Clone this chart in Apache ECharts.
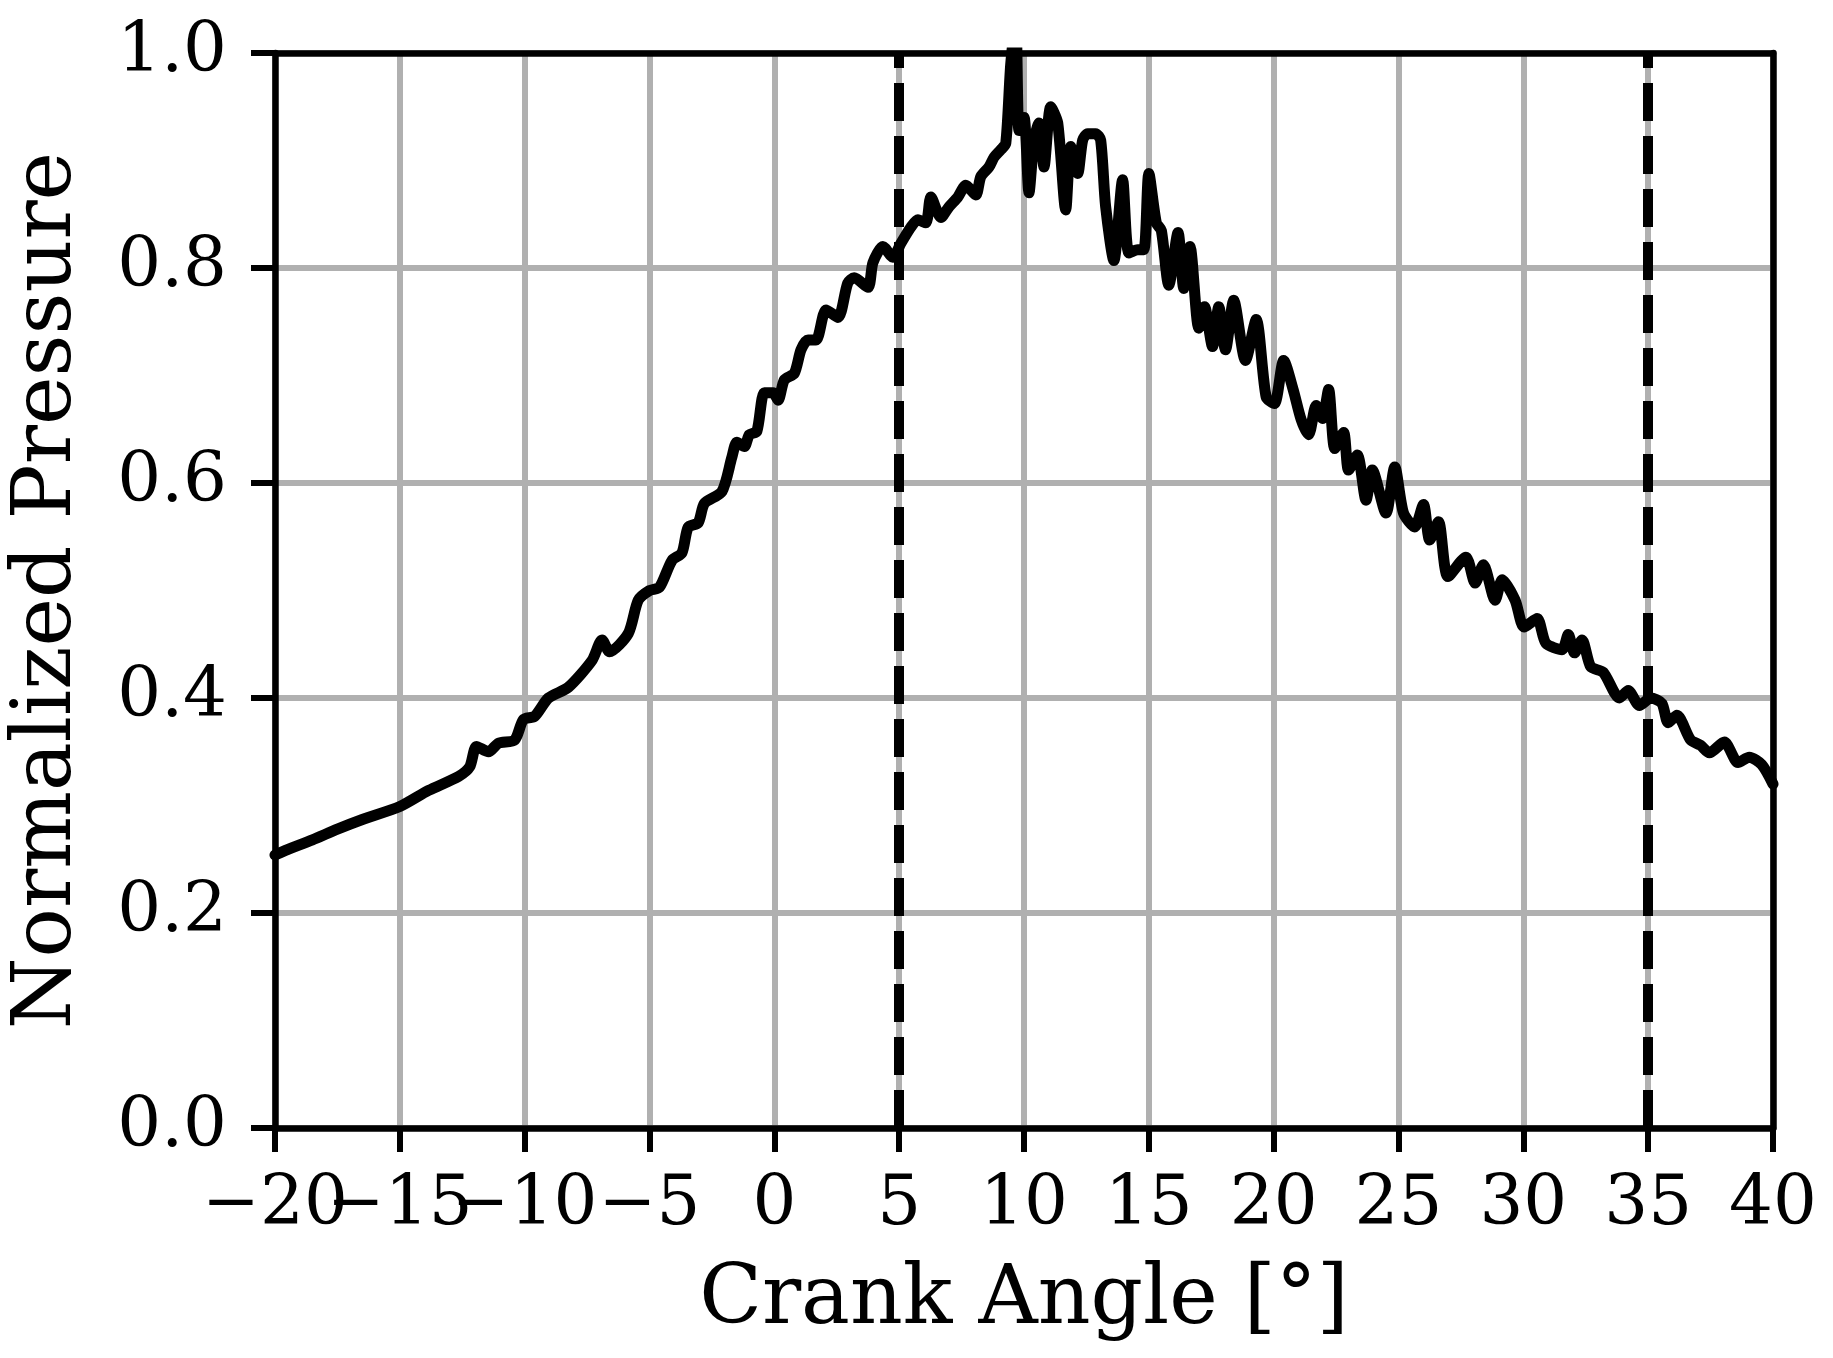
<!DOCTYPE html>
<html>
<head>
<meta charset="utf-8">
<title>Normalized Pressure</title>
<script src="https://cdn.jsdelivr.net/npm/echarts@6.0.0/dist/echarts.min.js"></script>
<style>
    html, body { margin: 0; padding: 0; background: #ffffff; }
    #charts { width: 1833px; height: 1358px; }
</style>
</head>
<body>
<div id="charts"></div>
<script>
// crank angle [deg] and pressure
var angle = [
    -20, -19.5, -18.5, -17.5, -16.5, -15, -13.85, -12.65, -12.2, -11.93,
    -11.45, -11.05, -10.4, -10.05, -9.6, -9.05, -8.25, -7.3, -6.9, -6.6,
    -5.85, -5.45, -5.0, -4.6, -4.1, -3.7, -3.45, -3.05, -2.8, -2.1,
    -1.7, -1.5, -1.2, -1.0, -0.7, -0.4, -0.05, 0.15, 0.4, 0.8,
    1.07, 1.35, 1.67, 2.07, 2.55, 2.94, 3.2, 3.75, 3.95, 4.35,
    4.75, 5.07, 5.47, 5.75, 6.07, 6.27, 6.67, 7.0, 7.35, 7.67,
    8.07, 8.27, 8.6, 8.8, 9.07, 9.27, 9.47, 9.67, 9.8, 10.0,
    10.2, 10.4, 10.6, 10.8, 11.07, 11.35, 11.67, 11.87, 12.15, 12.35,
    12.55, 12.87, 13.07, 13.27, 13.6, 13.95, 14.2, 14.55, 14.8, 15.0,
    15.3, 15.5, 15.8, 16.17, 16.4, 16.65, 17.0, 17.23, 17.55, 17.8,
    18.07, 18.4, 18.87, 19.3, 19.7, 20.03, 20.4, 20.78, 21.1, 21.4,
    21.7, 21.95, 22.2, 22.45, 22.8, 23.0, 23.35, 23.7, 23.95, 24.5,
    24.85, 25.2, 25.65, 26.0, 26.25, 26.6, 26.98, 27.7, 28.07, 28.4,
    28.87, 29.15, 29.67, 30.03, 30.55, 30.9, 31.55, 31.8, 32.05, 32.35,
    32.7, 33.2, 33.85, 34.2, 34.65, 35.1, 35.55, 35.8, 36.15, 36.7,
    37.1, 37.45, 38.05, 38.6, 39.05, 39.55, 40
];
var pressure = [
    0.254, 0.259, 0.268, 0.278, 0.287, 0.299, 0.314, 0.327, 0.336, 0.355,
    0.350, 0.358, 0.361, 0.380, 0.383, 0.400, 0.410, 0.435, 0.454, 0.443,
    0.460, 0.491, 0.500, 0.503, 0.528, 0.535, 0.559, 0.563, 0.581, 0.592,
    0.624, 0.638, 0.634, 0.645, 0.648, 0.684, 0.684, 0.677, 0.696, 0.702,
    0.724, 0.733, 0.733, 0.761, 0.754, 0.786, 0.791, 0.782, 0.805, 0.820,
    0.810, 0.823, 0.838, 0.845, 0.842, 0.866, 0.847, 0.857, 0.866, 0.877,
    0.868, 0.885, 0.894, 0.903, 0.910, 0.916, 0.990, 1.030, 0.928, 0.940,
    0.870, 0.919, 0.935, 0.894, 0.950, 0.935, 0.854, 0.913, 0.888, 0.919,
    0.925, 0.925, 0.919, 0.857, 0.807, 0.882, 0.814, 0.817, 0.817, 0.888,
    0.842, 0.835, 0.784, 0.833, 0.781, 0.820, 0.744, 0.764, 0.727, 0.764,
    0.724, 0.770, 0.714, 0.752, 0.680, 0.674, 0.714, 0.687, 0.659, 0.645,
    0.672, 0.660, 0.687, 0.632, 0.647, 0.612, 0.626, 0.584, 0.612, 0.572,
    0.615, 0.572, 0.559, 0.580, 0.547, 0.564, 0.513, 0.531, 0.507, 0.524,
    0.491, 0.510, 0.491, 0.466, 0.474, 0.451, 0.445, 0.459, 0.442, 0.454,
    0.429, 0.424, 0.400, 0.407, 0.393, 0.400, 0.395, 0.377, 0.384, 0.361,
    0.356, 0.349, 0.359, 0.340, 0.345, 0.338, 0.320
];
// dashed reference lines
var markAngles = [5, 35];

var xTicks = { min: -20, max: 40, step: 5 };
var yTicks = { min: 0, max: 1, step: 0.2 };

var fontName = 'DejaVu Serif';

function angleText(v) {
    return v < 0 ? '\u2212' + (-v) : String(v);
}

function staticChart() {
    var myChart = echarts.init(document.getElementById('charts'));
    var seriesData = [];
    for (var i = 0; i < angle.length; i++) {
        seriesData.push([angle[i], pressure[i]]);
    }
    var labelStyle = {
        margin: 44,
        fontFamily: fontName,
        fontSize: 69,
        color: '#000000'
    };
    var option = {
        animation: false,
        backgroundColor: '#ffffff',
        grid: {
            left: 273,
            right: 60,
            top: 53,
            bottom: 230
        },
        xAxis: [{
            type: 'value',
            min: xTicks.min,
            max: xTicks.max,
            interval: xTicks.step,
            name: 'Crank Angle [°]',
            nameLocation: 'middle',
            nameGap: 133,
            nameTextStyle: {
                fontFamily: fontName,
                fontSize: 82,
                color: '#000000'
            },
            axisLine: {//轴线
                onZero: false,
                lineStyle: { color: '#000000', width: 6.5 }
            },
            axisTick: {
                length: 24,
                lineStyle: { color: '#000000', width: 6 }
            },
            // the first label sits on its own axis below, or echarts drops one of the overlapping pair
            axisLabel: Object.assign({}, labelStyle, {
                formatter: function (v) {
                    return v === xTicks.min ? '' : angleText(v);
                }
            }),
            splitLine: {
                show: true,
                lineStyle: { color: '#b0b0b0', width: 6 }
            }
        }, {
            // top spine
            type: 'value',
            position: 'top',
            min: xTicks.min,
            max: xTicks.max,
            axisLine: { onZero: false, lineStyle: { color: '#000000', width: 6.5 } },
            axisTick: { show: false },
            axisLabel: { show: false },
            splitLine: { show: false }
        }, {
            // label for -20 only
            type: 'value',
            position: 'bottom',
            offset: 0,
            min: xTicks.min,
            max: xTicks.max,
            interval: xTicks.step,
            axisLine: { show: false, onZero: false },
            axisTick: { show: false },
            splitLine: { show: false },
            axisLabel: Object.assign({}, labelStyle, {
                showMinLabel: true,
                formatter: function (v) {
                    return v === xTicks.min ? angleText(v) : '';
                }
            })
        }],
        yAxis: [{
            type: 'value',
            min: yTicks.min,
            max: yTicks.max,
            interval: yTicks.step,
            name: 'Normalized Pressure',
            nameLocation: 'middle',
            nameGap: 185,
            nameTextStyle: {
                fontFamily: fontName,
                fontSize: 82,
                color: '#000000'
            },
            axisLine: {
                onZero: false,
                lineStyle: { color: '#000000', width: 6.5 }
            },
            axisTick: {
                length: 24,
                lineStyle: { color: '#000000', width: 6 }
            },
            axisLabel: {
                margin: 48,
                fontFamily: fontName,
                fontSize: 69,
                color: '#000000',
                showMinLabel: true,
                showMaxLabel: true,
                formatter: function (v) {
                    return v.toFixed(1);
                }
            },
            splitLine: {
                show: true,
                lineStyle: { color: '#b0b0b0', width: 6 }
            }
        }, {
            // right spine
            type: 'value',
            position: 'right',
            min: yTicks.min,
            max: yTicks.max,
            axisLine: { onZero: false, lineStyle: { color: '#000000', width: 6.5 } },
            axisTick: { show: false },
            axisLabel: { show: false },
            splitLine: { show: false }
        }],
        series: [{
            type: 'line',
            data: seriesData,
            showSymbol: false,
            symbol: 'none',
            smooth: 0.25,
            clip: true,
            lineStyle: {
                color: '#000000',
                width: 11,
                join: 'round',
                cap: 'round'
            },
            markLine: {
                silent: true,
                symbol: ['none', 'none'],
                label: { show: false },
                lineStyle: {
                    color: '#000000',
                    width: 10,
                    type: [38, 15]
                },
                data: markAngles.map(function (v) { return { xAxis: v }; })
            }
        }]
    };
    myChart.setOption(option);
    window.addEventListener('resize', function () { myChart.resize(); });
}

staticChart();
</script>
</body>
</html>
